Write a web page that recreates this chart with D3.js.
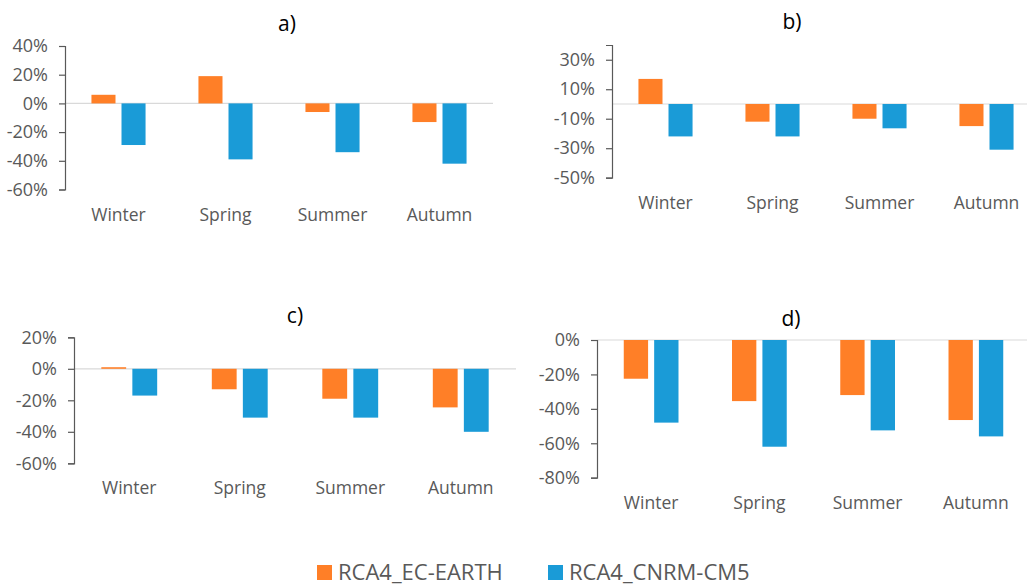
<!DOCTYPE html>
<html>
<head>
<meta charset="utf-8">
<script src="https://cdn.jsdelivr.net/npm/d3@7"></script>
<style>
  body { margin: 0; background: #fff; }
  svg { display: block; font-family: 'Open Sans', sans-serif; }
  .tick text { fill: #595959; }
</style>
</head>
<body>
<svg></svg>
<script>
let width = 1027;
let height = 587;

let seasons = ['Winter', 'Spring', 'Summer', 'Autumn'];
let series = ['RCA4_EC-EARTH', 'RCA4_CNRM-CM5'];
let colors = ['#FF7F27', '#1A9BD7'];

// values in percent
let aEcEarth = [6, 19, -6, -13];
let aCnrm = [-29, -39, -34, -42];
let bEcEarth = [17, -12, -10, -15];
let bCnrm = [-22, -22, -16.5, -31];
let cEcEarth = [1, -13, -19, -24.5];
let cCnrm = [-17, -31, -31, -40];
let dEcEarth = [-22.5, -35.5, -32, -46.5];
let dCnrm = [-48, -62, -52.5, -56];

let aTicks = [-60, -40, -20, 0, 20, 40];
let bTicks = [-50, -30, -10, 10, 30];
let cTicks = [-60, -40, -20, 0, 20];
let dTicks = [-80, -60, -40, -20, 0];

let svg = d3.select('svg')
    .attr('width', width)
    .attr('height', height);

let panels = [
    {title: 'a)', ec: aEcEarth, cn: aCnrm, ticks: aTicks, domain: [-60, 40],
     x0: 65, x1: 493, yTop: 46, yBot: 189.5, tx: 287, ty: 31},
    {title: 'b)', ec: bEcEarth, cn: bCnrm, ticks: bTicks, domain: [-50, 40],
     x0: 612, x1: 1040, yTop: 45, yBot: 177.7, tx: 792, ty: 29},
    {title: 'c)', ec: cEcEarth, cn: cCnrm, ticks: cTicks, domain: [-60, 20],
     x0: 74, x1: 516, yTop: 337.3, yBot: 463.3, tx: 295, ty: 323},
    {title: 'd)', ec: dEcEarth, cn: dCnrm, ticks: dTicks, domain: [-80, 0],
     x0: 597, x1: 1030, yTop: 340, yBot: 477.7, tx: 791, ty: 326}
];

panels.forEach(function (p) {
    let g = svg.append('g');

    let x = d3.scaleBand()
        .domain(seasons)
        .range([p.x0, p.x1]);

    let xs = d3.scaleBand()
        .domain(series)
        .range([0, x.bandwidth()])
        .paddingInner(0.2)
        .paddingOuter(0.88);

    let y = d3.scaleLinear()
        .domain(p.domain)
        .range([p.yBot, p.yTop]);

    // zero line
    g.append('line')
        .attr('x1', p.x0).attr('x2', p.x1)
        .attr('y1', y(0)).attr('y2', y(0))
        .attr('stroke', '#d9d9d9')
        .attr('stroke-width', 1.2);

    let rows = seasons.map(function (s, i) {
        return [{s: s, k: series[0], v: p.ec[i], c: colors[0]},
                {s: s, k: series[1], v: p.cn[i], c: colors[1]}];
    }).flat();

    g.selectAll('rect.bar')
        .data(rows)
        .enter()
        .append('rect')
        .attr('class', 'bar')
        .attr('x', d => x(d.s) + xs(d.k))
        .attr('width', xs.bandwidth())
        .attr('y', d => y(Math.max(0, d.v)))
        .attr('height', d => Math.abs(y(d.v) - y(0)))
        .attr('fill', d => d.c);

    let yAxis = d3.axisLeft(y)
        .tickValues(p.ticks)
        .tickSize(6)
        .tickPadding(11)
        .tickFormat(d => d + '%');

    let ya = g.append('g')
        .attr('transform', 'translate(' + p.x0 + ',0)')
        .call(yAxis);
    ya.select('.domain').attr('stroke', '#595959').attr('stroke-width', 1.2);
    ya.selectAll('.tick line').attr('stroke', '#595959').attr('stroke-width', 1.2);
    ya.selectAll('.tick text')
        .attr('font-size', 18)
        .attr('font-family', "'Open Sans', sans-serif");

    g.selectAll('text.cat')
        .data(seasons)
        .enter()
        .append('text')
        .attr('class', 'cat')
        .attr('x', d => x(d) + x.bandwidth() / 2)
        .attr('y', p.yBot + 31)
        .attr('text-anchor', 'middle')
        .attr('font-size', 17.5)
        .attr('fill', '#595959')
        .text(d => d);

    g.append('text')
        .attr('x', p.tx)
        .attr('y', p.ty)
        .attr('text-anchor', 'middle')
        .attr('font-size', 21)
        .attr('fill', '#000')
        .text(p.title);
});

// legend
let legendX = [317, 548];
let legend = svg.selectAll('g.legend')
    .data(series)
    .enter()
    .append('g')
    .attr('class', 'legend')
    .attr('transform', (d, i) => 'translate(' + legendX[i] + ',565)');

legend.append('rect')
    .attr('width', 15)
    .attr('height', 15)
    .attr('fill', (d, i) => colors[i]);

legend.append('text')
    .attr('x', 21)
    .attr('y', 15)
    .attr('font-size', 22)
    .attr('fill', '#595959')
    .text(d => d);
</script>
</body>
</html>
